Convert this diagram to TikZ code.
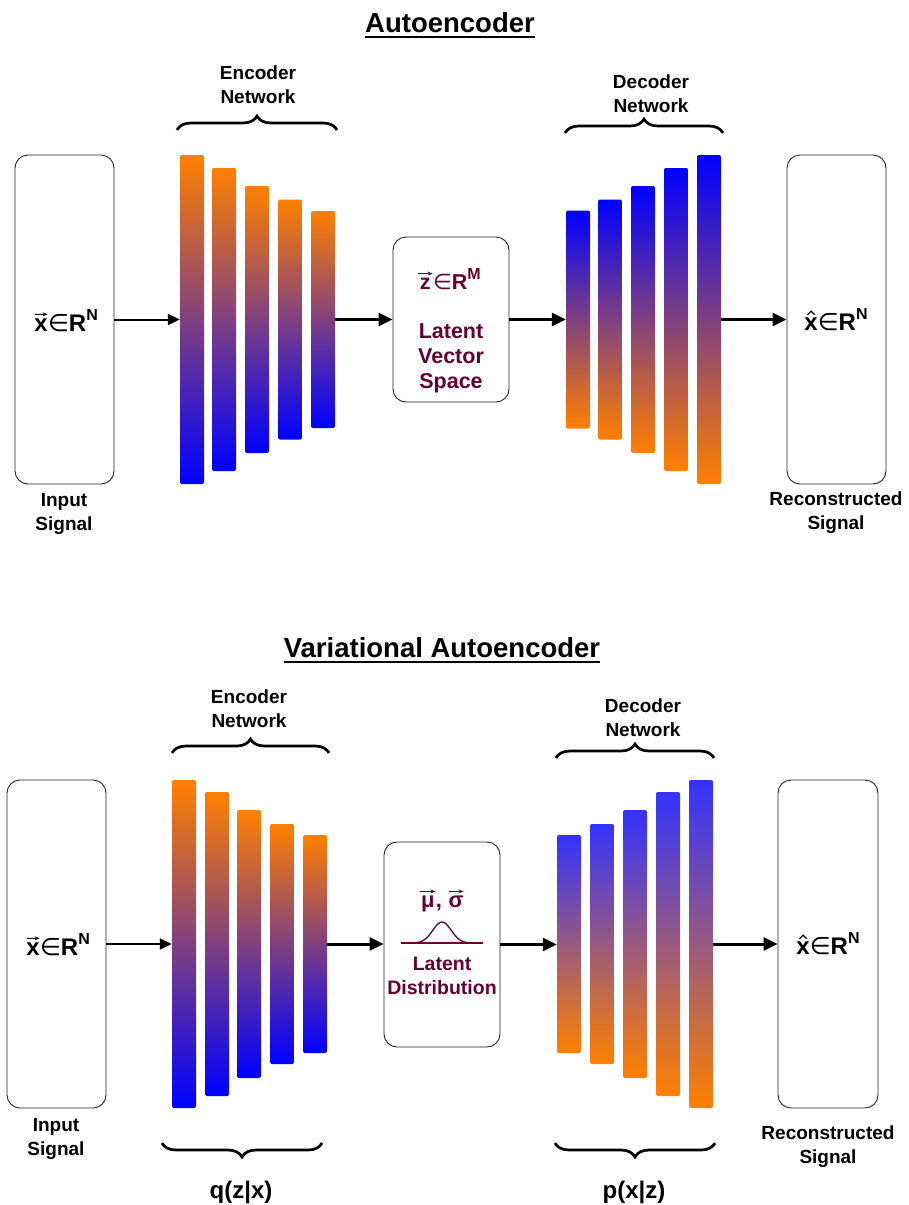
\documentclass[tikz,border=0pt]{standalone}
\usepackage{fontspec}
\setmainfont{Liberation Sans}
\newfontfamily\dvsans{DejaVu Sans}
\usetikzlibrary{arrows.meta,decorations.pathreplacing}

\definecolor{barorange}{RGB}{255,128,0}
\definecolor{barblue}{RGB}{0,0,255}
\definecolor{barbluelight}{RGB}{51,51,255}
\definecolor{latentred}{RGB}{102,0,51}

% small arrow set above a symbol (vector notation)
\newcommand\vecover[2][13]{{\leavevmode\vbox{\offinterlineskip\halign{\hfil##\hfil\cr
  \tikz[x=1pt,y=1pt,baseline=0pt]\draw[line width=0.9pt,-{Stealth[length=5pt,width=4pt]}] (0,0)--(#1,0);\cr
  \noalign{\kern2pt}
  #2\cr}}}}
% hat set above a symbol (estimate notation)
\newcommand\hatover[1]{{\leavevmode\vbox{\offinterlineskip\halign{\hfil##\hfil\cr
  \tikz[x=1pt,y=1pt,baseline=0pt]\draw[line width=1.3pt,line join=miter] (0,0)--(3.5,3.5)--(7,0);\cr
  \noalign{\kern2pt}
  #1\cr}}}}
\newcommand\elemof{{\dvsans\mdseries ∈}}
\newcommand\supr[1]{\raisebox{0.42em}{\fontsize{16}{16}\selectfont #1}}

\begin{document}
\begin{tikzpicture}[x=1pt,y=-1pt,
  sigbox/.style={draw=black!85,line width=0.9pt,rounded corners=13pt,fill=white,
    inner sep=0pt,minimum width=99pt,minimum height=329pt},
  latbox/.style={draw=black!85,line width=0.9pt,rounded corners=13pt,fill=white,
    inner sep=0pt,minimum width=116pt},
  encbar/.style={inner sep=0pt,minimum width=24pt,rounded corners=2pt,
    top color=barorange,bottom color=barblue},
  decbar/.style={inner sep=0pt,minimum width=24pt,rounded corners=2pt,
    top color=barblue,bottom color=barorange},
  vdecbar/.style={inner sep=0pt,minimum width=24pt,rounded corners=2pt,
    top color=barbluelight,bottom color=barorange},
  flow/.style={-{Triangle[length=14pt,width=13pt]},line width=3pt},
  thinflow/.style={-{Triangle[length=12pt,width=11pt]},line width=2pt},
  lbl/.style={font=\fontsize{19}{24}\selectfont\bfseries,align=center,inner sep=0pt},
  sig/.style={font=\fontsize{24}{26}\selectfont\bfseries,inner sep=0pt,anchor=base},
  lat/.style={font=\fontsize{21.5}{25}\selectfont\bfseries,text=latentred,align=center,inner sep=0pt},
  prob/.style={font=\fontsize{24}{26}\selectfont\bfseries,inner sep=0pt,anchor=base},
  ttl/.style={font=\fontsize{27.5}{30}\selectfont\bfseries,inner sep=0pt,anchor=base},
  brc/.style={decorate,decoration={brace,amplitude=14pt},line width=2.7pt},
]
\path[use as bounding box,fill=white] (0,0) rectangle (909,1205);

% ---------------- Autoencoder ----------------
\node[ttl] (t1) at (450,32) {Autoencoder};
\draw[line width=2.3pt] ([yshift=-5pt]t1.base west) -- ([yshift=-5pt]t1.base east);

\node[sigbox] (ae-in) at (64.5,319.5) {};
\node[sigbox] (ae-out) at (836.5,319.5) {};
\node[latbox,minimum height=165pt] (ae-lat) at (451,319.5) {};

\foreach \n/\x/\h in {1/192/329,2/224/303,3/257/267,4/290/240,5/323/217}
  \node[encbar,minimum height=\h pt] (ae-e\n) at (\x,319.5) {};
\foreach \n/\x/\h in {1/578/218,2/610/240,3/643/267,4/676/303,5/709/329}
  \node[decbar,minimum height=\h pt] (ae-d\n) at (\x,319.5) {};

\draw[thinflow] (ae-in.east) -- (ae-in.east -| ae-e1.west);
\draw[flow] (ae-e5.east) -- (ae-e5.east -| ae-lat.west);
\draw[flow] (ae-lat.east) -- (ae-lat.east -| ae-d1.west);
\draw[flow] (ae-d5.east) -- (ae-d5.east -| ae-out.west);

\node[sig] (ae-x) at (66,331) {\vecover{x}\elemof R\supr{N}};
\node[sig] (ae-xh) at (836,330) {\hatover{x}\elemof R\supr{N}};
\node[lat,anchor=base] (ae-z) at (449,289) {\vecover[15]{z}\elemof R\supr{M}};
\node[lat] (ae-lt) at (451,358) {Latent\\Vector\\Space};

\node[lbl] (ae-enc) at (258,85) {Encoder\\Network};
\node[lbl] (ae-dec) at (651,94) {Decoder\\Network};
\node[lbl] (ae-inl) at (64,514) {Input\\Signal};
\node[lbl] (ae-outl) at (836,513) {Reconstructed\\Signal};

\draw[brc] (177,130) -- (337,130);
\draw[brc] (565,133) -- (723,133);

% ---------------- Variational Autoencoder ----------------
\node[ttl] (t2) at (442,657) {Variational Autoencoder};
\draw[line width=2.3pt] ([yshift=-5pt]t2.base west) -- ([yshift=-5pt]t2.base east);

\node[sigbox,minimum height=328pt] (va-in) at (56.5,944) {};
\node[sigbox,minimum height=328pt,minimum width=100pt] (va-out) at (828,944) {};
\node[latbox,minimum height=205pt] (va-lat) at (442,944.5) {};

\foreach \n/\x/\h in {1/184/328,2/217/304,3/249/268,4/282/240,5/315/218}
  \node[encbar,minimum height=\h pt] (va-e\n) at (\x,944) {};
\foreach \n/\x/\h in {1/569/218,2/602/240,3/635/268,4/668/304,5/701/328}
  \node[vdecbar,minimum height=\h pt] (va-d\n) at (\x,944) {};

\draw[thinflow] (va-in.east) -- (va-in.east -| va-e1.west);
\draw[flow] (va-e5.east) -- (va-e5.east -| va-lat.west);
\draw[flow] (va-lat.east) -- (va-lat.east -| va-d1.west);
\draw[flow] (va-d5.east) -- (va-d5.east -| va-out.west);

\node[sig] (va-x) at (58,955) {\vecover{x}\elemof R\supr{N}};
\node[sig] (va-xh) at (828,954) {\hatover{x}\elemof R\supr{N}};

\node[lat,anchor=base,font=\fontsize{22}{24}\selectfont\bfseries] (va-ms) at (442,907)
  {\vecover[15]{μ}, \vecover[15]{σ}};
% bell curve of the latent distribution
\draw[latentred,line width=1.3pt] (401,943) -- (483,943);
\draw[latentred,line width=1.3pt]
  plot[domain=-32:32,samples=60,smooth] (442+\x,{943-21*exp(-(\x/13)^2)});
\node[lat,font=\fontsize{19.5}{24}\selectfont\bfseries] (va-lt) at (442,976) {Latent\\Distribution};

\node[lbl] (va-enc) at (249,709) {Encoder\\Network};
\node[lbl] (va-dec) at (643,718) {Decoder\\Network};
\node[lbl] (va-inl) at (56,1139) {Input\\Signal};
\node[lbl] (va-outl) at (828,1147) {Reconstructed\\Signal};

\draw[brc] (172,753) -- (329,753);
\draw[brc] (556,758) -- (714,758);
\draw[brc] (322,1143) -- (162,1143);
\draw[brc] (715,1143) -- (555,1143);

\node[prob] (va-q) at (241,1198) {q(z|x)};
\node[prob] (va-p) at (634,1198) {p(x|z)};
\end{tikzpicture}
\end{document}
